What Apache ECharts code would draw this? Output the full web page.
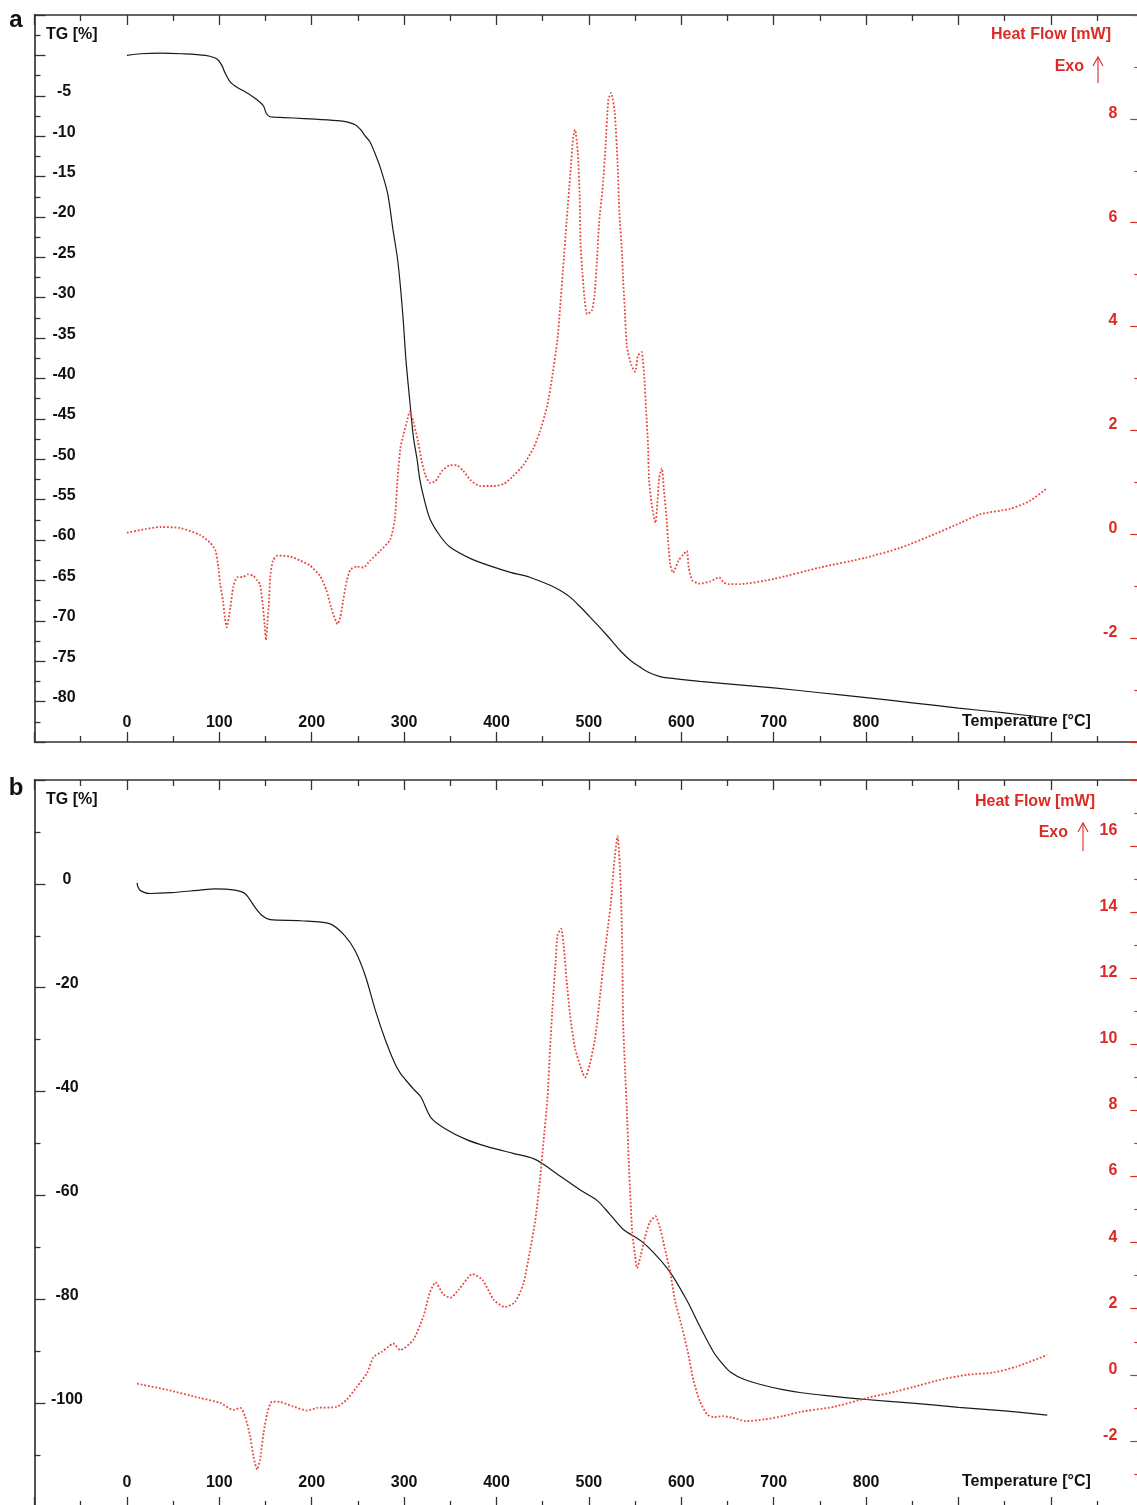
<!DOCTYPE html>
<html>
<head>
<meta charset="utf-8">
<script src="https://cdn.jsdelivr.net/npm/echarts@6/dist/echarts.min.js"></script>
<style>
html,body{margin:0;padding:0;background:#fff;}
#chart{width:1137px;height:1505px;}
</style>
</head>
<body>
<div id="chart"></div>
<script>
// ---------- Panel a ----------
const tempA_TG = [0,15,36,60,85,95,99,103,106,112,120,128,136,144,148,151,155,160,180,204,231,240,247,253,258,263,268,274,282,288,293,296,299,302,306,310,314,317,321,328,339,350,372,393,415,436,458,470,480,490,501,510,518,525,534,545,555,565,577,588,599,620,650,700,750,800,850,900,950,996];
const tgA = [0.0,0.2,0.28,0.2,0.0,-0.3,-0.6,-1.3,-2.1,-3.3,-4.0,-4.5,-5.1,-5.8,-6.3,-7.2,-7.6,-7.65,-7.75,-7.9,-8.1,-8.3,-8.6,-9.2,-10.0,-10.7,-12.0,-13.8,-17.0,-21.6,-25.3,-28.6,-32.7,-37.7,-42.6,-47.2,-50.0,-52.5,-54.6,-57.4,-59.5,-60.9,-62.3,-63.2,-64.0,-64.6,-65.6,-66.3,-67.1,-68.2,-69.5,-70.6,-71.6,-72.5,-73.7,-74.9,-75.7,-76.4,-76.9,-77.1,-77.25,-77.5,-77.8,-78.3,-78.9,-79.5,-80.15,-80.8,-81.4,-82.0];

const tempA_HF = [0,20,36,58,79,90,96,99,101,104,106,108,112,115,119,126,131,137,141,144,147,149,150.5,152,154,155,158,163,177,188,198,209,216,221,228,231,234,238,242,249,256,263,274,285,290,293,296,299,303,306,310,315,319,323,328,334,341,350,357,364,372,382,397,408,418,429,440,447,455,460,466,469,472,476,480,483,485,488,490,491,493,495,498,503,506,509,511,515,518,521,524,528,531,533,536,537,539,541,546,550,553,557,560,562,564,565,568,572,574,576,579,581,584,586,588,591,597,602,606,608,612,620,631,641,646,651,663,700,750,800,837,875,902,924,956,977,996];
const hfA = [0.03,0.1,0.14,0.12,-0.01,-0.16,-0.32,-0.64,-0.97,-1.28,-1.6,-1.79,-1.41,-1.02,-0.83,-0.82,-0.77,-0.8,-0.89,-0.96,-1.35,-1.73,-2.04,-1.73,-1.22,-0.83,-0.51,-0.41,-0.43,-0.51,-0.6,-0.8,-1.08,-1.41,-1.73,-1.6,-1.28,-0.89,-0.68,-0.62,-0.64,-0.51,-0.32,-0.1,0.3,1.1,1.66,1.9,2.17,2.36,2.17,1.79,1.41,1.14,0.99,1.02,1.22,1.33,1.33,1.22,1.04,0.93,0.93,0.97,1.12,1.33,1.66,1.98,2.48,3.0,3.76,4.4,5.1,6.06,6.96,7.65,7.79,7.35,6.5,5.55,5.04,4.59,4.24,4.3,4.59,5.36,6.0,6.7,7.46,8.36,8.5,8.11,7.15,6.19,5.36,4.91,4.28,3.63,3.25,3.13,3.44,3.51,3.0,2.36,1.72,1.08,0.57,0.22,0.57,1.08,1.27,0.89,0.32,-0.2,-0.58,-0.74,-0.51,-0.39,-0.32,-0.64,-0.89,-0.95,-0.91,-0.83,-0.93,-0.96,-0.96,-0.86,-0.64,-0.45,-0.26,0.01,0.22,0.39,0.49,0.64,0.89];

// ---------- Panel b ----------
const tempB_TG = [11,12,15,25,48,79,95,117,128,139,147,155,188,220,236,247,258,269,280,290,296,301,310,318,329,344,367,390,418,440,450,469,491,509,523,537,556,570,588,606,620,635,643,653,669,690,710,730,760,800,850,900,950,996];
const tgB = [0.2,-0.6,-1.35,-1.86,-1.7,-1.2,-0.95,-1.2,-1.9,-4.6,-6.2,-6.9,-7.1,-7.7,-10.0,-12.9,-17.7,-24.4,-30.2,-34.6,-36.5,-37.6,-39.5,-41.0,-45.0,-47.1,-49.2,-50.6,-51.9,-52.9,-53.9,-56.3,-59.0,-61.0,-63.7,-66.5,-68.7,-71.0,-74.8,-80.2,-85.2,-90.2,-92.1,-94.0,-95.5,-96.6,-97.4,-98.0,-98.6,-99.3,-100.0,-100.8,-101.5,-102.3];

const tempB_HF = [11,43,79,101,115,123,128,133.5,137,141,144,148,152,157,166,180,195,206,227,238,249,260,267,276,283,288,296,310,321,328,334,342,350,359,374,385,397,409,420,429,436,442,447,451,455,458,461,464,466,470,473,476,480,485,493,496,501,507,512,516,520,524,527,531,534,536,537,539,541,543,545,547,550,552,556,561,566,572,577,582,588,593,601,608,613,620,628,635,645,655,670,690,710,729,765,801,833,851,880,909,938,963,996];
const hfB = [-0.27,-0.45,-0.7,-0.85,-1.06,-1.0,-1.27,-1.87,-2.48,-2.87,-2.57,-1.75,-1.15,-0.81,-0.82,-0.96,-1.08,-1.0,-0.97,-0.75,-0.36,0.06,0.54,0.7,0.85,0.95,0.75,1.06,1.78,2.5,2.8,2.45,2.33,2.57,3.05,2.87,2.27,2.05,2.2,2.75,3.72,4.68,5.89,7.1,8.3,9.88,11.3,12.5,13.3,13.5,12.9,11.9,10.8,9.88,9.15,9.0,9.4,10.24,11.45,12.5,13.4,14.35,15.4,16.3,15.1,13.1,10.7,9.3,8.07,6.5,5.3,4.3,3.6,3.23,3.6,4.2,4.62,4.8,4.44,3.84,3.11,2.27,1.42,0.57,-0.15,-0.8,-1.2,-1.28,-1.25,-1.3,-1.4,-1.35,-1.25,-1.12,-0.97,-0.7,-0.5,-0.37,-0.15,0.0,0.07,0.25,0.6];

// axis settings (ticks)
const xTicks = {min: -100, max: 1100, interval: 100};
const tgTicksA = {min: -85, max: 5, interval: 5};
const hfTicksA = {min: -4, max: 10, interval: 2};
const tgTicksB = {min: -120, max: 20, interval: 20};
const hfTicksB = {min: -4, max: 18, interval: 2};

const zip = (xs, ys) => xs.map((x, i) => [x, ys[i]]);

const FONT = "'Liberation Sans', Arial, Helvetica, sans-serif";
const RED = '#dc2b26';
const DOT = '#ea463f';
const AX = '#333';

function xAxisDef(gridIndex, pos, labels, margin) {
  return {
    type: 'value', gridIndex, position: pos,
    min: xTicks.min, max: xTicks.max, interval: xTicks.interval,
    axisLine: {show: true, onZero: false, lineStyle: {color: AX, width: 1.5}},
    axisTick: {show: true, inside: true, length: 10, lineStyle: {color: AX, width: 1.3}},
    minorTick: {show: true, splitNumber: 2, length: 6, lineStyle: {color: AX, width: 1.3}},
    splitLine: {show: false},
    axisLabel: {
      show: labels, inside: true, margin: margin || 11,
      fontFamily: FONT, fontSize: 16, fontWeight: 'bold', color: '#111',
      showMinLabel: true, showMaxLabel: true,
      formatter: v => (v >= 0 && v <= 800) ? String(v) : ''
    }
  };
}

function yLeft(gridIndex, t, lo, hi, center) {
  return {
    type: 'value', gridIndex, position: 'left',
    min: t.min, max: t.max, interval: t.interval,
    axisLine: {show: true, onZero: false, lineStyle: {color: '#555', width: 2}},
    axisTick: {show: true, inside: true, length: 11, lineStyle: {color: AX, width: 1.3}},
    minorTick: {show: true, splitNumber: 2, length: 6, lineStyle: {color: AX, width: 1.3}},
    splitLine: {show: false},
    axisLabel: {
      inside: true, margin: center - 34.5, align: 'center',
      verticalAlign: 'bottom', lineHeight: 8,
      fontFamily: FONT, fontSize: 16, fontWeight: 'bold', color: '#111',
      showMinLabel: true, showMaxLabel: true,
      formatter: v => (v >= lo && v <= hi) ? String(v) : ''
    }
  };
}

function yRight(gridIndex, t, lo, hi, raised) {
  return {
    type: 'value', gridIndex, position: 'right',
    min: t.min, max: t.max, interval: t.interval,
    axisLine: {show: true, onZero: false, lineStyle: {color: RED, width: 1.5}},
    axisTick: {show: true, inside: true, length: 13, lineStyle: {color: RED, width: 1.2}},
    minorTick: {show: true, splitNumber: 2, length: 9, lineStyle: {color: RED, width: 1.2}},
    splitLine: {show: false},
    axisLabel: {
      inside: true, margin: 26, align: 'right',
      padding: [0, 0, 11, 0],
      fontFamily: FONT, fontSize: 16, fontWeight: 'bold', color: RED,
      showMinLabel: true, showMaxLabel: true,
      formatter: v => {
        if (v < lo || v > hi) return '';
        if (raised !== undefined && v === raised) return '{hi|' + v + '}';
        return String(v);
      },
      rich: {hi: {padding: [0, 0, 19, 0], fontFamily: FONT, fontSize: 16, fontWeight: 'bold', color: RED}}
    }
  };
}

function txt(x, y, text, opts) {
  return {
    type: 'text', x, y, silent: true,
    style: Object.assign({
      text, fill: '#111', font: "bold 16px " + FONT,
      textAlign: 'left', textVerticalAlign: 'middle'
    }, opts || {})
  };
}

function arrow(x, y0, y1) {
  return [
    {type: 'line', silent: true, shape: {x1: x, y1: y0, x2: x, y2: y1}, style: {stroke: RED, lineWidth: 1.1}},
    {type: 'polyline', silent: true, shape: {points: [[x - 5, y1 + 9], [x, y1], [x + 5, y1 + 9]]}, style: {stroke: RED, lineWidth: 1.1, fill: null}}
  ];
}

const hfLine = {color: DOT, width: 1.8, type: [1.8, 1.9], cap: 'butt'};
const tgLine = {color: '#1a1a1a', width: 1.2};

const option = {
  animation: false,
  backgroundColor: '#fff',
  grid: [
    {left: 34.5, top: 15, width: 1108.8, height: 727, containLabel: false, outerBoundsMode: 'none'},
    {left: 34.5, top: 780, width: 1108.8, height: 727, containLabel: false, outerBoundsMode: 'none'}
  ],
  xAxis: [
    xAxisDef(0, 'bottom', true, 11),
    xAxisDef(0, 'top', false),
    xAxisDef(1, 'bottom', true, 16),
    xAxisDef(1, 'top', false)
  ],
  yAxis: [
    yLeft(0, tgTicksA, -80, -5, 64),
    yRight(0, hfTicksA, -2, 8),
    yLeft(1, tgTicksB, -100, 0, 67),
    yRight(1, hfTicksB, -2, 16, 16)
  ],
  series: [
    {name: 'TG a', type: 'line', xAxisIndex: 0, yAxisIndex: 0, data: zip(tempA_TG, tgA), showSymbol: false, smooth: 0.3, lineStyle: tgLine},
    {name: 'HF a', type: 'line', xAxisIndex: 0, yAxisIndex: 1, data: zip(tempA_HF, hfA), showSymbol: false, smooth: 0.2, lineStyle: hfLine},
    {name: 'TG b', type: 'line', xAxisIndex: 2, yAxisIndex: 2, data: zip(tempB_TG, tgB), showSymbol: false, smooth: 0.3, lineStyle: tgLine},
    {name: 'HF b', type: 'line', xAxisIndex: 2, yAxisIndex: 3, data: zip(tempB_HF, hfB), showSymbol: false, smooth: 0.2, lineStyle: hfLine}
  ],
  graphic: [
    txt(16, 20, 'a', {font: "bold 24px " + FONT, textAlign: 'center'}),
    txt(16, 788, 'b', {font: "bold 24px " + FONT, textAlign: 'center'}),
    txt(46, 35, 'TG [%]'),
    txt(46, 800, 'TG [%]'),
    txt(1111, 35, 'Heat Flow [mW]', {fill: RED, textAlign: 'right'}),
    txt(1095, 802, 'Heat Flow [mW]', {fill: RED, textAlign: 'right'}),
    txt(1084, 67, 'Exo', {fill: RED, textAlign: 'right'}),
    txt(1068, 833, 'Exo', {fill: RED, textAlign: 'right'}),
    ...arrow(1098, 83, 57),
    ...arrow(1083, 851, 823),
    txt(962, 722, 'Temperature [°C]'),
    txt(962, 1482, 'Temperature [°C]')
  ]
};

const chart = echarts.init(document.getElementById('chart'), null, {renderer: 'canvas'});
chart.setOption(option);
</script>
</body>
</html>
